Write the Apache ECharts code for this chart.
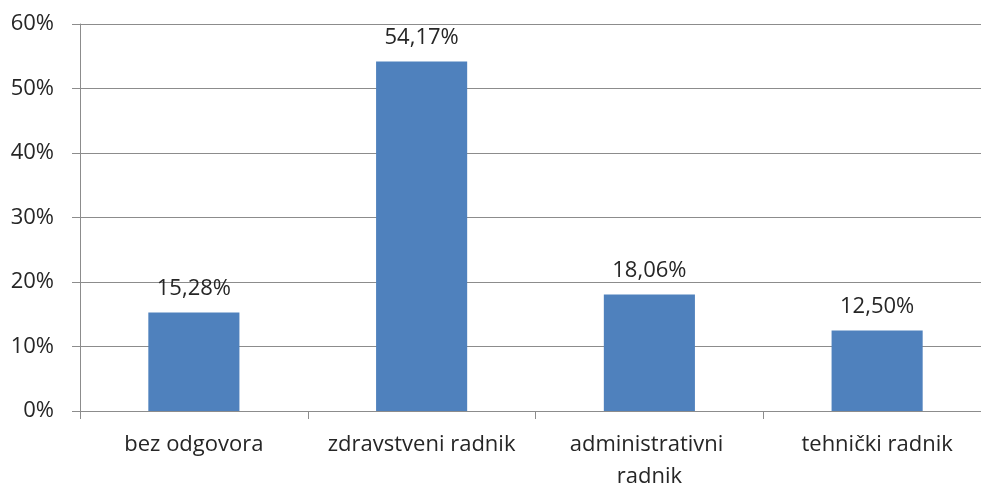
<!DOCTYPE html>
<html>
<head>
<meta charset="utf-8">
<script src="https://cdn.jsdelivr.net/npm/echarts@6/dist/echarts.min.js"></script>
<style>
  html, body { margin: 0; padding: 0; background: #fff; overflow: hidden; }
  #main { width: 981px; height: 486px; }
</style>
</head>
<body>
<div id="main"></div>
<script>
const categories = ['bez odgovora', 'zdravstveni radnik', 'administrativni radnik', 'tehnički radnik'];
const shares = [15.28, 54.17, 18.06, 12.50];
const yTicks = [0, 10, 20, 30, 40, 50, 60];

const fontFamily = '"Open Sans", "DejaVu Sans", sans-serif';
const chart = echarts.init(document.getElementById('main'));
chart.setOption({
  animation: false,
  textStyle: { fontFamily: fontFamily },
  // plot area runs slightly past the right edge of the picture, as in the reference
  grid: { left: 80, right: -10, top: 24, bottom: 75, containLabel: false, outerBoundsMode: 'none' },
  xAxis: {
    type: 'category',
    data: categories,
    axisLine: { lineStyle: { color: '#8c8c8c', width: 1 } },
    axisTick: { show: true, length: 8, lineStyle: { color: '#8c8c8c' } },
    axisLabel: {
      color: '#262626', fontSize: 22, margin: 18, lineHeight: 32,
      fontFamily: fontFamily,
      width: 215, overflow: 'break', interval: 0
    }
  },
  yAxis: {
    type: 'value',
    min: yTicks[0], max: yTicks[yTicks.length - 1], interval: 10,
    axisLine: { show: true, lineStyle: { color: '#8c8c8c' } },
    axisTick: { show: true, length: 8, lineStyle: { color: '#8c8c8c' } },
    splitLine: { lineStyle: { color: '#8c8c8c', width: 1 } },
    axisLabel: {
      color: '#262626', fontSize: 22, margin: 26, fontFamily: fontFamily,
      formatter: v => v + '%'
    }
  },
  series: [{
    type: 'bar',
    data: shares,
    barWidth: '40%',
    itemStyle: { color: '#4F81BD' },
    label: {
      show: true, position: 'top', distance: 13,
      color: '#262626', fontSize: 22, fontFamily: fontFamily,
      formatter: p => p.value.toFixed(2).replace('.', ',') + '%'
    }
  }]
});
</script>
</body>
</html>
